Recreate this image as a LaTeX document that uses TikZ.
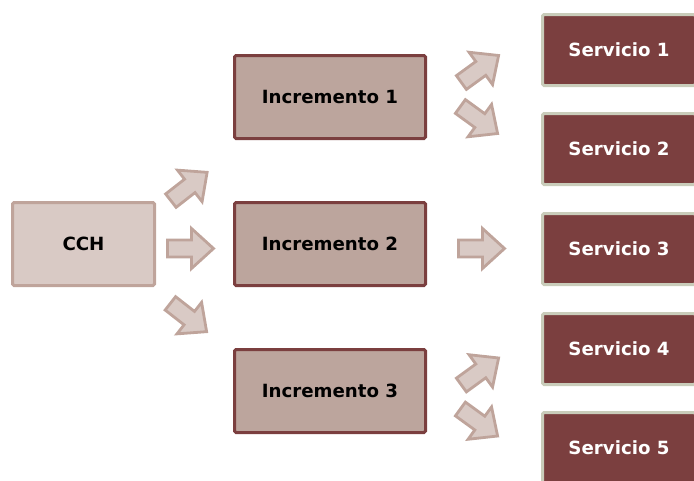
\documentclass[tikz,border=0pt]{standalone}
\usepackage{fontspec}
\setmainfont{DejaVu Sans}
\definecolor{sourcefill}{HTML}{D9CAC5}
\definecolor{sourceline}{HTML}{BFA49B}
\definecolor{incfill}{HTML}{BCA59D}
\definecolor{wine}{HTML}{7B3F3F}
\definecolor{servline}{HTML}{C9CCBA}
\begin{document}
\begin{tikzpicture}[x=1pt,y=-1pt,
  box/.style={rectangle, rounded corners=1.5pt, line width=3pt, inner sep=0pt,
    font=\fontsize{18.2}{22}\selectfont\bfseries},
  source/.style={box, draw=sourceline, fill=sourcefill, minimum width=142pt, minimum height=83pt},
  increment/.style={box, draw=wine, fill=incfill, minimum width=191pt, minimum height=83pt},
  service/.style={box, draw=servline, fill=wine, text=white, minimum width=153pt, minimum height=71pt},
  arrowbody/.style={draw=sourceline, fill=sourcefill, line width=2.8pt, line join=miter},
  blockarrow/.pic={
    \draw[arrowbody] (-23,-8.5) -- (1,-8.5) -- (1,-20) -- (23,0) -- (1,20) -- (1,8.5) -- (-23,8.5) -- cycle;
  }]
\useasboundingbox (0,0) rectangle (694,480);
\clip (0,0) rectangle (694,480);

% boxes
\node[source] (cch) at (83.5,244) {CCH};
\node[increment] (inc1) at (330,97) {Incremento 1};
\node[increment] (inc2) at (330,244) {Incremento 2};
\node[increment] (inc3) at (330,391) {Incremento 3};
\node[service] (s1) at (619,50) {Servicio 1};
\node[service] (s2) at (619,149) {Servicio 2};
\node[service] (s3) at (619,249) {Servicio 3};
\node[service] (s4) at (619,349) {Servicio 4};
\node[service] (s5) at (619,448) {Servicio 5};

% block arrows from CCH
\pic[rotate=38] (a-cch-1) at (189,186.5) {blockarrow};
\pic (a-cch-2) at (190.5,248.5) {blockarrow};
\pic[rotate=-38] (a-cch-3) at (188.5,317.5) {blockarrow};

% block arrows from the increments
\pic[rotate=36] (a-inc1-1) at (480,69) {blockarrow};
\pic[rotate=-36] (a-inc1-2) at (479,120) {blockarrow};
\pic (a-inc2-1) at (481.5,248.5) {blockarrow};
\pic[rotate=36] (a-inc3-1) at (480,371.5) {blockarrow};
\pic[rotate=-36] (a-inc3-2) at (479,422.5) {blockarrow};
\end{tikzpicture}
\end{document}
